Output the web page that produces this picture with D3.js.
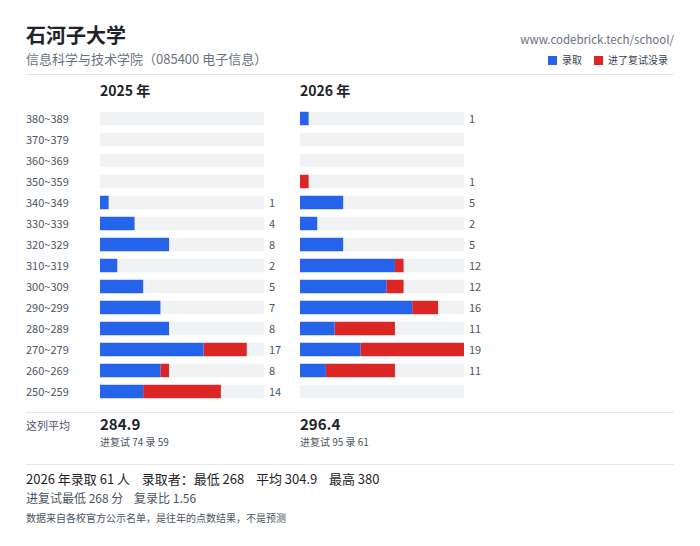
<!DOCTYPE html>
<html><head><meta charset="utf-8">
<script src="https://cdn.jsdelivr.net/npm/d3@7"></script>
<style>body{margin:0;background:#fff;font-family:"Noto Sans CJK SC","Noto Sans",sans-serif}</style>
</head><body>
<svg width="700" height="546"></svg>
<script>
'use strict';
// score bands, top to bottom
var bands = ['380~389','370~379','360~369','350~359','340~349','330~339','320~329','310~319','300~309','290~299','280~289','270~279','260~269','250~259'];
var total2025 = [0,0,0,0,1,4,8,2,5,7,8,17,8,14];
var admit2025 = [0,0,0,0,1,4,8,2,5,7,8,12,7,5];
var total2026 = [1,0,0,1,5,2,5,12,12,16,11,19,11,0];
var admit2026 = [1,0,0,0,5,2,5,11,10,13,4,7,3,0];
var years = ['2025 年','2026 年'];
var avgs = ['284.9','296.4'];
var avgNotes = ['进复试 74 录 59','进复试 95 录 61'];

var svg = d3.select('svg');
var blue = '#2563eb', red = '#dc2626', track = '#f1f2f4';

svg.append('text').attr('x',26).attr('y',43).attr('font-size',20).attr('font-weight','bold').attr('fill','#1f2329').text('石河子大学');
svg.append('text').attr('x',26).attr('y',64).attr('font-size',13).attr('fill','#6b7280').text('信息科学与技术学院（085400 电子信息）');
svg.append('text').attr('x',674).attr('y',44).attr('text-anchor','end').attr('font-size',11.5).attr('fill','#6b7280').text('www.codebrick.tech/school/');
[[548,blue,'录取'],[594,red,'进了复试没录']].forEach(function(l){
  svg.append('rect').attr('x',l[0]).attr('y',56).attr('width',9).attr('height',9).attr('fill',l[1]);
  svg.append('text').attr('x',l[0]+14).attr('y',64).attr('font-size',10).attr('fill','#374151').text(l[2]);
});
svg.append('line').attr('x1',26).attr('x2',674).attr('y1',74.5).attr('y2',74.5).attr('stroke','#e5e7eb');

var y = d3.scaleBand().domain(bands).range([108,402]).paddingInner(0.36).paddingOuter(0.18);
svg.selectAll('.band').data(bands).enter().append('text')
  .attr('x',26).attr('y',function(d){return y(d)+y.bandwidth()/2+4;})
  .attr('font-size',11).attr('fill','#4b5563').text(function(d){return d;});

var cols = [{x0:100,tot:total2025,adm:admit2025},{x0:300,tot:total2026,adm:admit2026}];
cols.forEach(function(c,i){
  var x = d3.scaleLinear().domain([0,19]).range([c.x0,c.x0+164]);
  svg.append('text').attr('x',c.x0).attr('y',96).attr('font-size',14).attr('font-weight','bold').attr('fill','#1f2329').text(years[i]);
  var g = svg.append('g');
  g.selectAll('.trk').data(bands).enter().append('rect')
    .attr('x',c.x0).attr('y',function(d){return y(d);}).attr('width',164).attr('height',y.bandwidth()).attr('fill',track);
  g.selectAll('.red').data(bands).enter().append('rect')
    .attr('x',function(d,j){return x(c.adm[j]);}).attr('y',function(d){return y(d);})
    .attr('width',function(d,j){return x(c.tot[j])-x(c.adm[j]);}).attr('height',y.bandwidth()).attr('fill',red);
  g.selectAll('.blue').data(bands).enter().append('rect')
    .attr('x',c.x0).attr('y',function(d){return y(d);})
    .attr('width',function(d,j){return x(c.adm[j])-c.x0;}).attr('height',y.bandwidth()).attr('fill',blue);
  g.selectAll('.num').data(bands).enter().append('text')
    .attr('x',c.x0+169).attr('y',function(d){return y(d)+y.bandwidth()/2+4;})
    .attr('font-size',11).attr('fill','#4b5563').text(function(d,j){return c.tot[j]?c.tot[j]:'';});
  svg.append('text').attr('x',c.x0).attr('y',430).attr('font-size',15).attr('font-weight',600).attr('fill','#1f2329').text(avgs[i]);
  svg.append('text').attr('x',c.x0).attr('y',446).attr('font-size',10).attr('fill','#4b5563').text(avgNotes[i]);
});

svg.append('line').attr('x1',26).attr('x2',674).attr('y1',412.5).attr('y2',412.5).attr('stroke','#e5e7eb');
svg.append('text').attr('x',26).attr('y',430).attr('font-size',11).attr('fill','#4b5563').text('这列平均');
svg.append('line').attr('x1',26).attr('x2',674).attr('y1',464.5).attr('y2',464.5).attr('stroke','#e5e7eb');
svg.append('text').attr('x',26).attr('y',484).attr('font-size',13).attr('fill','#1f2329').attr('xml:space','preserve').text('2026 年录取 61 人    录取者：最低 268    平均 304.9    最高 380');
svg.append('text').attr('x',26).attr('y',503).attr('font-size',12).attr('fill','#4b5563').attr('xml:space','preserve').text('进复试最低 268 分    复录比 1.56');
svg.append('text').attr('x',26).attr('y',522).attr('font-size',10).attr('fill','#4b5563').text('数据来自各校官方公示名单，是往年的点数结果，不是预测');
</script>
</body></html>
